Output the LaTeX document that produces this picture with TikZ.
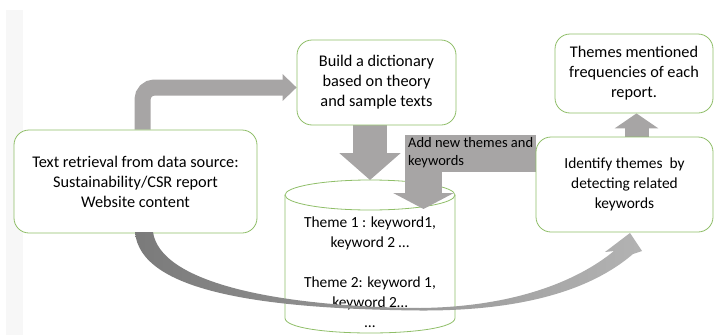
\documentclass[tikz,border=0pt]{standalone}
\usepackage{fontspec}
\setmainfont{Carlito}
\usetikzlibrary{arrows.meta,backgrounds}
\definecolor{boxgreen}{RGB}{143,190,104}
\definecolor{arrowgray}{RGB}{167,165,165}
\begin{document}
\begin{tikzpicture}[x=1pt,y=-1pt,
  txt/.style={align=center, inner sep=0pt, font=\fontsize{15.4}{20}\selectfont},
  big/.style={font=\fontsize{16.3}{20}\selectfont},
  box/.style={txt, draw=boxgreen, line width=0.8pt, fill=white, rounded corners=15pt},
  blockarrow/.style={draw=arrowgray, line join=miter}]
\useasboundingbox (0,0) rectangle (716,335);
\node[box, big, minimum width=243pt, minimum height=103pt] (src) at (135.5,181.5)
  {Text retrieval from data source:\\ Sustainability/CSR report\\ Website content};
\node[box, big, minimum width=159pt, minimum height=85pt] (dict) at (376.5,82.5)
  {Build a dictionary\\ based on theory\\ and sample texts};
\node[box, big, minimum width=158pt, minimum height=79pt] (freq) at (634,73.5)
  {Themes mentioned\\ frequencies of each\\ report.};
\node[box, minimum width=177pt, minimum height=95pt] (ident) at (624.5,184.5)
  {Identify themes~~by\\ detecting related\\ keywords};
\node[txt] (db) at (370,272)
  {Theme 1 : keyword1,\\ keyword 2 …\\[20pt] Theme 2: keyword 1,\\ keyword 2…\\ …};
\coordinate (dbtop) at (370,180);
\coordinate (dbin) at (423.5,209);
\coordinate (addmid) at (0,153.5);
\begin{scope}[on background layer]
\fill[black!3] (6,10) rectangle (23,335);
% cylinder
\path[draw=boxgreen, line width=0.8pt] (285,195) -- (285,318) .. controls (285,338) and (455,338) .. (455,318) -- (455,195);
\path[draw=boxgreen, line width=0.8pt] (370,195) ellipse [x radius=85, y radius=15];
% block arrows
\path[blockarrow, line width=16pt, rounded corners=12pt, -{Triangle[width=26pt,length=14pt]}]
  ([xshift=7pt]src.north) |- ([yshift=-5pt]dict.west);
\path[blockarrow, line width=34pt, -{Triangle[width=60pt,length=27pt]}]
  ([xshift=-6.5pt]dict.south) -- (dbtop);
\path[blockarrow, line width=37pt, -{Triangle[width=60pt,length=16pt]}]
  (ident.west |- addmid) -| (dbin);
\path[blockarrow, line width=24pt, -{Triangle[width=43pt,length=15pt]}]
  ([xshift=12pt]ident.north) -- ([xshift=2.5pt]freq.south);
\end{scope}
\node[txt, anchor=north west, align=left, font=\fontsize{14.5}{18}\selectfont] (addlbl) at (408,137)
  {Add new themes and\\ keywords};
% curved arrow
\shade[left color=black!52, right color=black!30]
  (135,232) .. controls (140,291) and (260,309) .. (420,310.5)
  .. controls (520,311) and (590,291) .. (633,254)
  -- (642,251) -- (630,233) -- (605,252) -- (614,251)
  .. controls (575,283) and (510,307) .. (420,308)
  .. controls (270,306.5) and (160,281) .. (153,232) -- cycle;
\end{tikzpicture}
\end{document}
